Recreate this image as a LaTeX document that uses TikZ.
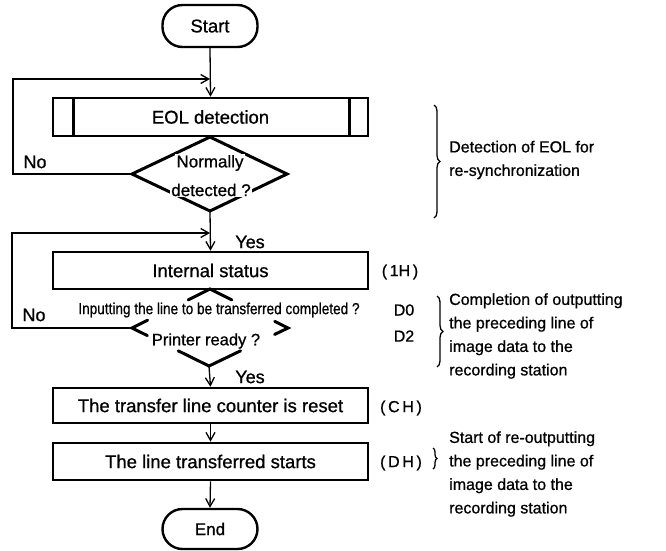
\documentclass[tikz,border=0pt]{standalone}
\usepackage{fontspec}
\setmainfont{Liberation Sans}[FakeBold=0.8]
\usetikzlibrary{arrows.meta,calc,decorations.pathreplacing}
\begin{document}
\begin{tikzpicture}[x=1pt,y=-1pt,
  every node/.style={font=\fontsize{17}{20}\selectfont, inner sep=0pt},
  box/.style={draw, line width=2.6pt, minimum width=315pt, minimum height=36pt, font=\fontsize{18.5}{20}\selectfont},
  term/.style={draw, line width=2.4pt, rounded corners=20pt, minimum width=95pt, minimum height=42pt},
  conn/.style={line width=1.3pt},
  arr/.style={conn, -{Straight Barb[length=8pt,width=9pt,line width=1.3pt]}},
  dia/.style={line width=3pt, line cap=round},
  mask/.style={fill=white, inner sep=1pt},
  lbl/.style={font=\fontsize{18}{20}\selectfont},
  note/.style={font=\fontsize{16}{23.5}\selectfont, anchor=west, align=left},
  code/.style={font=\fontsize{16}{20}\selectfont},
  br/.style={decorate, decoration={brace, amplitude=6pt}, line width=1.3pt},
]
\useasboundingbox[fill=white] (0,0) rectangle (666,550);

% terminals and boxes
\node[term, font=\fontsize{18.5}{20}\selectfont] (start) at (210,26) {Start};
\node[box, minimum height=38pt] (eol) at (210.5,117) {EOL detection};
\draw[line width=2.6pt] ([xshift=22pt]eol.north west) -- ([xshift=22pt]eol.south west);
\draw[line width=2.6pt] ([xshift=-20pt]eol.north east) -- ([xshift=-20pt]eol.south east);
\node[box, minimum height=37pt] (status) at (210.5,270.5) {Internal status};
\node[box, minimum height=35pt] (reset) at (210.5,405.5) {The transfer line counter is reset};
\node[box, minimum height=37pt] (starts) at (210.5,461.5) {The line transferred starts};
\node[term, minimum height=40pt] (end) at (210,529) {End};

% decision 1
\coordinate (d1t) at (210,137);
\coordinate (d1l) at (132,174);
\coordinate (d1r) at (287,174);
\coordinate (d1b) at (210,211);
\draw[dia] (d1t) -- (d1r) -- (d1b) -- (d1l) -- cycle;
\node[mask] (d1a) at (210,163) {Normally};
\node[mask] (d1c) at (211,190) {detected ?};

% decision 2
\coordinate (d2t) at (210,289);
\coordinate (d2l) at (132,328);
\coordinate (d2r) at (288,328);
\coordinate (d2b) at (209,366);
\draw[dia] ($(d2t)!0.28!(d2l)$) -- (d2t) -- ($(d2t)!0.28!(d2r)$);
\draw[dia] ($(d2l)!0.2!(d2t)$) -- (d2l) -- ($(d2l)!0.2!(d2b)$);
\draw[dia] ($(d2r)!0.17!(d2t)$) -- (d2r) -- ($(d2r)!0.17!(d2b)$);
\draw[dia] ($(d2b)!0.4!(d2l)$) -- (d2b) -- ($(d2b)!0.4!(d2r)$);
\node[font=\fontsize{16}{20}\selectfont] (d2a) at (219,310) {\scalebox{0.85}[1]{Inputting the line to be transferred completed ?}};
\node[font=\fontsize{16.5}{20}\selectfont] (d2c) at (206,341) {Printer ready ?};

% connectors
\coordinate (j1) at (210,79);
\coordinate (k1) at (13,174);
\coordinate (k2) at (13,79);
\coordinate (j2) at (210,233);
\coordinate (m1) at (12,328);
\coordinate (m2) at (12,233);
\draw[arr] (start.south) -- (eol.north);
\draw[arr] (d1l) -- (k1) -- (k2) -- (j1);
\draw[arr] (d1b) -- (status.north);
\draw[arr] (d2l) -- (m1) -- (m2) -- (j2);
\draw[arr] (d2b) -- (reset.north);
\draw[arr] (reset.south) -- (starts.north);
\draw[arr] (starts.south) -- (end.north);

\node[lbl] (no1) at (35,162) {No};
\node[lbl] (no2) at (34,315) {No};
\node[lbl] (yes1) at (250,242) {Yes};
\node[lbl] (yes2) at (250,377) {Yes};

% annotations
\coordinate (b1a) at (434,105);
\coordinate (b1b) at (434,218);
\draw[br] (b1a) -- (b1b);
\node[note] (n1) at (449,160) {Detection of EOL for\\re-synchronization};

\node[code] (h1) at (400,272) {(\,1H\,)};
\node[code] (h2) at (404,310) {D0};
\node[code] (h3) at (404,336) {D2};
\coordinate (b2a) at (437,296);
\coordinate (b2b) at (437,367);
\draw[br] (b2a) -- (b2b);
\node[note] (n2) at (449,336) {Completion of outputting\\the preceding line of\\image data to the\\recording station};

\node[code] (h4) at (401,408) {(\,C\,H\,)};
\node[code] (h5) at (401,463) {(\,D\,H\,)};
\coordinate (b3a) at (433,448);
\coordinate (b3b) at (433,469);
\draw[br, decoration={brace, amplitude=4pt}] (b3a) -- (b3b);
\node[note] (n3) at (449,474) {Start of re-outputting\\the preceding line of\\image data to the\\recording station};
\end{tikzpicture}
\end{document}
